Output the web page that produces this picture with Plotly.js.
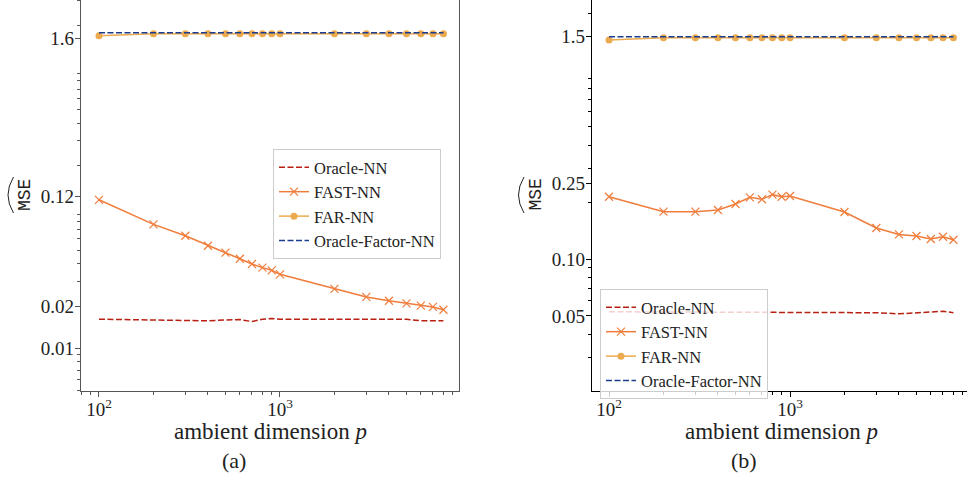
<!DOCTYPE html>
<html><head><meta charset="utf-8">
<script src="https://cdn.plot.ly/plotly-3.0.1.min.js"></script>
</head><body style="margin:0"><div id="chart"></div>
<script>
// ---- data ----
const p = [100,200,300,400,500,600,700,800,900,1000,2000,3000,4000,5000,6000,7000,8000];
const seriesNames = ["Oracle-NN","FAST-NN","FAR-NN","Oracle-Factor-NN"];
// panel (a)
const oracleA = [0.0161,0.0159,0.0157,0.0157,0.0159,0.0160,0.0155,0.0161,0.0163,0.0161,0.0161,0.0161,0.0163,0.0161,0.0157,0.0157,0.0157];
const fastA   = [0.114,0.0762,0.0632,0.0537,0.0479,0.0434,0.0398,0.0375,0.0359,0.0336,0.0265,0.0232,0.0218,0.0209,0.0201,0.0197,0.0188];
const farA    = [1.68,1.73,1.73,1.73,1.73,1.73,1.73,1.73,1.73,1.73,1.73,1.73,1.73,1.73,1.73,1.73,1.73];
const ofA     = [1.76,1.76,1.76,1.76,1.76,1.76,1.76,1.76,1.76,1.76,1.76,1.76,1.76,1.76,1.76,1.76,1.76];
// panel (b)
const oracleB = [0.0526,0.0525,0.0525,0.0524,0.0525,0.0526,0.0525,0.0526,0.0526,0.0526,0.0524,0.0520,0.0513,0.0520,0.0522,0.0529,0.0520];
const fastB   = [0.2136,0.178,0.178,0.1816,0.1954,0.212,0.207,0.219,0.2136,0.2154,0.1773,0.1459,0.135,0.1323,0.1276,0.1312,0.1265];
const farB    = [1.44,1.48,1.48,1.48,1.48,1.48,1.48,1.48,1.48,1.48,1.48,1.48,1.48,1.48,1.48,1.48,1.48];
const ofB     = [1.50,1.50,1.50,1.50,1.50,1.50,1.50,1.50,1.50,1.50,1.50,1.50,1.50,1.50,1.50,1.50,1.50];
const yTicksA = [0.01,0.02,0.12,1.6];
const yTickTextA = ["0.01","0.02","0.12","1.6"];
const yTicksB = [0.05,0.10,0.25,1.5];
const yTickTextB = ["0.05","0.10","0.25","1.5"];
const xTicks = [100,1000];
const xTickText = ["10<sup>2</sup>","10<sup>3</sup>"];
const xTitle = "ambient dimension <i>p</i>";
const yTitle = "MSE";
const panelLabels = ["(a)","(b)"];

// ---- styling ----
const W = 967, H = 482;
const C = {oracle:"#b82012", fast:"#f07d3c", far:"#ebaa4e", of:"#1b3d8f"};
const FONT = "Liberation Serif";
const MONO = "Liberation Mono";
const TXT = "#222222";
const px = x => x / W, py = y => 1 - y / H;

function minorVals(lo, hi){ const v=[]; for(let d=lo; d<=hi; d++){ const b=Math.pow(10,d); for(let k=2;k<=9;k++) v.push(k*b);} return v; }

function traces(xa, ya, leg, o, f, r, of){
  return [
    {x:p, y:o, name:seriesNames[0], mode:"lines", xaxis:xa, yaxis:ya, legend:leg,
     line:{color:C.oracle, width:1.5, dash:"6px,2.5px"}},
    {x:p, y:f, name:seriesNames[1], mode:"lines+markers", xaxis:xa, yaxis:ya, legend:leg,
     line:{color:C.fast, width:1.5},
     marker:{symbol:"x-thin", size:8, color:C.fast, line:{color:C.fast, width:1.2}}},
    {x:p, y:r, name:seriesNames[2], mode:"lines+markers", xaxis:xa, yaxis:ya, legend:leg,
     line:{color:C.far, width:1.5}, marker:{symbol:"circle", size:7, color:C.far}},
    {x:p, y:of, name:seriesNames[3], mode:"lines", xaxis:xa, yaxis:ya, legend:leg,
     line:{color:C.of, width:1.5, dash:"6px,2.5px"}}
  ];
}

const data = [].concat(
  traces("x","y","legend", oracleA, fastA, farA, ofA),
  traces("x2","y2","legend2", oracleB, fastB, farB, ofB)
);

function xax(domain, range, col){
  return {type:"log", domain:domain, range:range, tickmode:"array", tickvals:xTicks, ticktext:xTickText,
    ticks:"outside", ticklen:5, tickwidth:1, tickcolor:col, showline:true, linecolor:col, linewidth:1.2,
    showgrid:false, zeroline:false, tickfont:{family:FONT, size:19, color:TXT}, ticklabelstandoff:-4,
    minor:{tickmode:"array", tickvals:minorVals(1,3), ticks:"outside", ticklen:3, tickcolor:col, showgrid:false}};
}
function yax(domain, range, tv, tt, col, mirror, anchor){
  return {type:"log", domain:domain, range:range, anchor:anchor, tickmode:"array", tickvals:tv, ticktext:tt,
    ticks:"outside", ticklen:5, tickwidth:1, tickcolor:col, showline:true, linecolor:col, linewidth:1.2,
    mirror:mirror, showgrid:false, zeroline:false, tickfont:{family:FONT, size:19, color:TXT}, ticklabelstandoff:-3,
    minor:{tickmode:"array", tickvals:minorVals(-3,0), ticks:"outside", ticklen:3, tickcolor:col, showgrid:false}};
}

const yDom = [1 - 391/H, 1];
function legendAt(x, y){
  return {x:x, y:y, xanchor:"left", yanchor:"top", bgcolor:"rgba(255,255,255,0.8)",
    bordercolor:"#cccccc", borderwidth:1, font:{family:FONT, size:16.5, color:TXT}, tracegroupgap:0};
}
function ann(text, x, y, fam, size, angle){
  return {text:text, x:px(x), y:py(y), xref:"paper", yref:"paper", xanchor:"center", yanchor:"middle",
    showarrow:false, textangle:angle||0, font:{family:fam, size:size, color:TXT}};
}
const layout = {
  width:W, height:H, margin:{l:0,r:0,t:0,b:0}, paper_bgcolor:"#fff", plot_bgcolor:"#fff",
  showlegend:true,
  xaxis: xax([px(81), px(459)], [1.9006, 3.989], "#555"),
  yaxis: yax(yDom, [-2.304, 0.479], yTicksA, yTickTextA, "#555", true, "x"),
  xaxis2: Object.assign(xax([px(592), 1], [1.906, 3.978], "#000"), {anchor:"y2"}),
  yaxis2: yax(yDom, [-1.698, 0.370], yTicksB, yTickTextB, "#000", false, "x2"),
  legend: legendAt(px(273), py(149)),
  legend2: legendAt(px(600), py(289)),
  annotations:[
    ann(yTitle, 25, 195, MONO, 18, -90),
    ann(yTitle, 535.5, 195, MONO, 18, -90),
    ann(xTitle, 270, 431, FONT, 23),
    ann(xTitle, 781.5, 431, FONT, 23),
    ann(panelLabels[0], 234, 460, FONT, 22),
    ann(panelLabels[1], 744, 460, FONT, 22)
  ],
  shapes:[
    {type:"path", xref:"paper", yref:"paper", line:{color:TXT, width:1},
     path:`M ${px(13.5)},${py(177)} Q ${px(8)},${py(186)} ${px(8)},${py(195)} Q ${px(8)},${py(204)} ${px(13.5)},${py(213)}`},
    {type:"path", xref:"paper", yref:"paper", line:{color:TXT, width:1},
     path:`M ${px(524)},${py(177)} Q ${px(518.5)},${py(186)} ${px(518.5)},${py(195)} Q ${px(518.5)},${py(204)} ${px(524)},${py(213)}`}
  ]
};
Plotly.newPlot("chart", data, layout, {displayModeBar:false});
</script></body></html>
